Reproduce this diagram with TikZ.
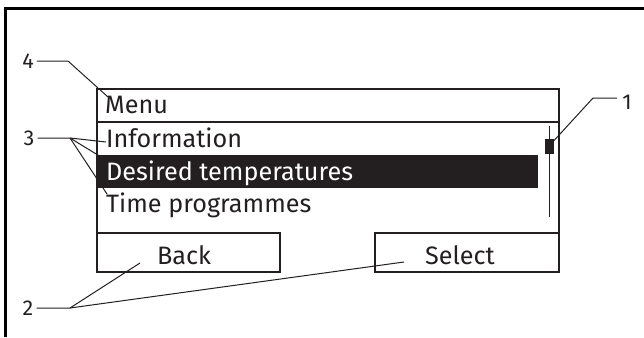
\documentclass[tikz,border=0pt]{standalone}
\usepackage{fontspec}
\setmainfont{Fira Sans}
\definecolor{ink}{HTML}{231F20}
\begin{document}
\begin{tikzpicture}[x=1pt,y=-1pt,
  frameline/.style={line width=2.4pt,black},
  lcdline/.style={line width=1.6pt,ink},
  leader/.style={line width=1pt,ink},
  menutext/.style={anchor=base west,inner sep=0pt,font=\fontsize{25.2}{25.2}\selectfont,text=ink},
  btntext/.style={anchor=base,inner sep=0pt,font=\fontsize{25.2}{25.2}\selectfont,text=ink},
  callout/.style={inner sep=0pt,font=\fontsize{21.5}{21.5}\selectfont,text=ink}]
\useasboundingbox (0,0) rectangle (644,337);

% outer frame (top and left edges)
\draw[frameline] (5.5,337) -- (5.5,8.5) -- (644,8.5);

% display outline and header separator
\draw[lcdline] (97,272) -- (97,89) -- (559,89) -- (559,272);
\draw[lcdline] (97,122) -- (559,122);

% highlighted entry
\fill[ink] (97,155) rectangle (538,188);

% scroll bar
\draw[lcdline] (549.5,126) -- (549.5,217);
\fill[ink] (545,139) rectangle (554,154);

% soft-key boxes
\draw[lcdline] (97,233) rectangle (280,272);
\draw[lcdline] (375,233) rectangle (559,272);

% screen texts
\node[menutext] (menu) at (105,113) {Menu};
\node[menutext] (info) at (106,147.5) {Information};
\node[menutext,text=white] (desired) at (106,180) {Desired temperatures};
\node[menutext] (time) at (106,212.5) {Time programmes};
\node[btntext] (back) at (184,264) {Back};
\node[btntext] (select) at (460,264) {Select};

% callout numbers
\node[callout] (n4) at (28,61) {4};
\node[callout] (n3) at (29,138) {3};
\node[callout] (n2) at (28,308) {2};
\node[callout] (n1) at (627,102) {1};

% leader end points
\coordinate (j4) at (68,61);
\coordinate (t4) at (108,97);
\coordinate (j3) at (70,138);
\coordinate (t3a) at (106,142);
\coordinate (t3b) at (106,160);
\coordinate (t3c) at (107,194);
\coordinate (j2) at (70,308);
\coordinate (t2a) at (140,263);
\coordinate (t2b) at (404,262);
\coordinate (j1) at (593,98);
\coordinate (t1) at (549,146);

% leaders
\draw[leader] (n4.east) ++(3,0) -- (j4) -- (t4);
\draw[leader] (n3.east) ++(3,0) -- (j3) -- (t3a);
\draw[leader] (j3) -- (t3b);
\draw[leader] (j3) -- (t3c);
\draw[leader] (n2.east) ++(3,0) -- (j2) -- (t2a);
\draw[leader] (j2) -- (t2b);
\draw[leader] (n1.west |- j1) ++(-5,0) -- (j1) -- (t1);
\end{tikzpicture}
\end{document}
